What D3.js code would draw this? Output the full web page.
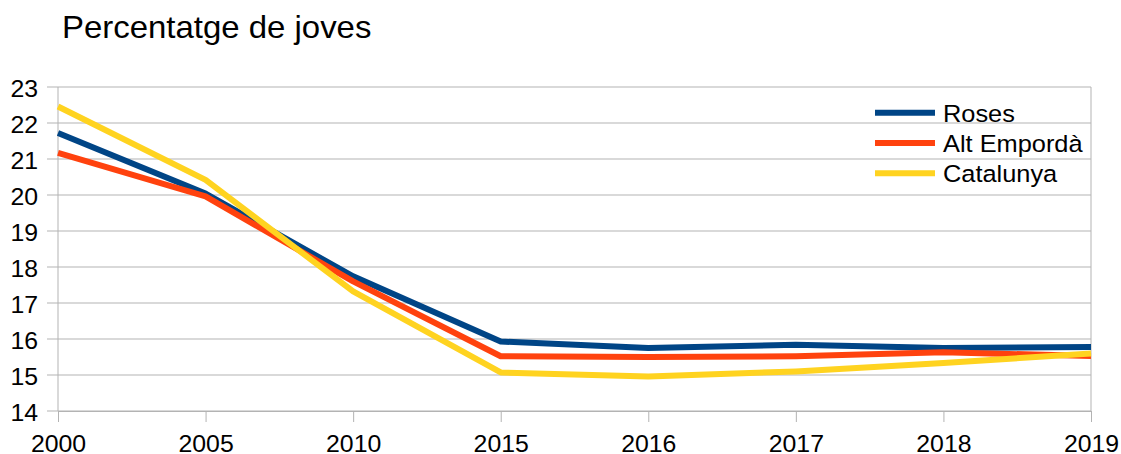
<!DOCTYPE html>
<html>
<head>
<meta charset="utf-8">
<script src="https://cdn.jsdelivr.net/npm/d3@7"></script>
<style>
  body { margin: 0; background: #fff; }
  text { font-family: "Liberation Sans", Arial, sans-serif; fill: #000; }
</style>
</head>
<body>
<div id="chart"></div>
<script>
// data
var years = ["2000", "2005", "2010", "2015", "2016", "2017", "2018", "2019"];
var roses = [21.72, 20.04, 17.74, 15.93, 15.75, 15.84, 15.75, 15.78];
var altEmporda = [21.17, 19.96, 17.6, 15.52, 15.5, 15.52, 15.63, 15.53];
var catalunya = [22.46, 20.42, 17.32, 15.07, 14.96, 15.1, 15.33, 15.6];
var yTicks = [14, 15, 16, 17, 18, 19, 20, 21, 22, 23];

var series = [
  {name: "Roses", values: roses, color: "#004586"},
  {name: "Alt Empordà", values: altEmporda, color: "#ff420e"},
  {name: "Catalunya", values: catalunya, color: "#ffd320"}
];

var width = 1121, height = 454;
var margin = {top: 87, right: 30, bottom: 43, left: 58};
var stretch = 1.08; // the text in the picture is a bit wide

var svg = d3.select("#chart").append("svg")
  .attr("width", width)
  .attr("height", height);

var x = d3.scalePoint()
  .domain(years)
  .range([margin.left, width - margin.right]);

var y = d3.scaleLinear()
  .domain([14, 23])
  .range([height - margin.bottom, margin.top]);

function place(px, py) {
  return "translate(" + px + "," + py + ") scale(" + stretch + ",1)";
}

// title
svg.append("text")
  .attr("transform", place(62, 37.5))
  .style("font-size", "30.5px")
  .text("Percentatge de joves");

// grid
svg.append("g")
  .selectAll("line")
  .data(yTicks)
  .enter().append("line")
  .attr("x1", margin.left - 11)
  .attr("x2", width - margin.right)
  .attr("y1", d => y(d))
  .attr("y2", d => y(d))
  .attr("stroke", "#b3b3b3")
  .attr("stroke-width", 1);

// y labels
svg.append("g")
  .selectAll("text")
  .data(yTicks)
  .enter().append("text")
  .attr("transform", d => place(38, y(d) + 9.5))
  .attr("text-anchor", "end")
  .style("font-size", "23px")
  .text(d => d);

// left and right frame lines
svg.append("line")
  .attr("x1", margin.left).attr("x2", margin.left)
  .attr("y1", margin.top).attr("y2", height - margin.bottom)
  .attr("stroke", "#b3b3b3");
svg.append("line")
  .attr("x1", width - margin.right).attr("x2", width - margin.right)
  .attr("y1", margin.top).attr("y2", height - margin.bottom)
  .attr("stroke", "#b3b3b3");

// x axis
var xAxis = svg.append("g")
  .attr("transform", "translate(0," + (height - margin.bottom) + ")")
  .call(d3.axisBottom(x).tickSize(11));
xAxis.select(".domain").attr("stroke", "#b3b3b3");
xAxis.selectAll(".tick line").attr("stroke", "#b3b3b3");
xAxis.selectAll(".tick text")
  .attr("y", null).attr("dy", null)
  .attr("transform", place(0, 40.5))
  .style("font-size", "23px")
  .style("font-family", "Liberation Sans, Arial, sans-serif")
  .attr("fill", "#000");

// lines
var line = d3.line()
  .x((d, i) => x(years[i]))
  .y(d => y(d));

svg.append("g")
  .selectAll("path")
  .data(series)
  .enter().append("path")
  .attr("d", d => line(d.values))
  .attr("fill", "none")
  .attr("stroke", d => d.color)
  .attr("stroke-width", 6)
  .attr("stroke-linejoin", "round");

// legend
var legend = svg.append("g")
  .selectAll("g")
  .data(series)
  .enter().append("g")
  .attr("transform", (d, i) => "translate(875," + (112.7 + i * 30.3) + ")");

legend.append("line")
  .attr("x1", 0).attr("x2", 60)
  .attr("stroke", d => d.color)
  .attr("stroke-width", 6);

legend.append("text")
  .attr("transform", place(68, 9))
  .style("font-size", "23.5px")
  .text(d => d.name);
</script>
</body>
</html>
